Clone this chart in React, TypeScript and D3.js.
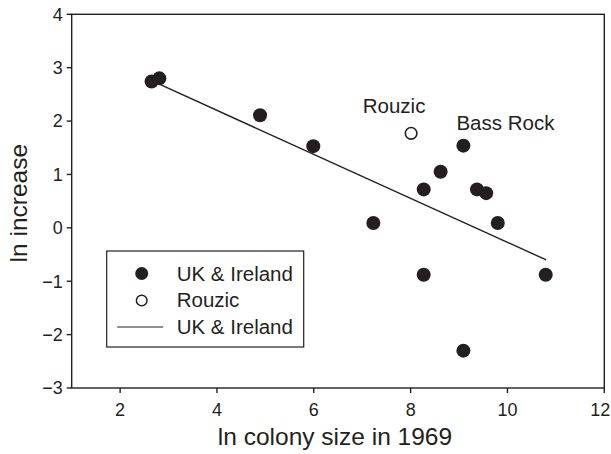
import React from 'react';
import * as d3 from 'd3';

// UK & Ireland colonies (filled dots)
const ukColonySize = [2.65, 2.81, 4.89, 5.99, 7.23, 8.27, 8.62, 9.09, 9.37, 9.56, 9.8, 8.27, 10.79, 9.09];
const ukIncrease = [2.74, 2.8, 2.11, 1.53, 0.09, 0.72, 1.05, 1.54, 0.72, 0.65, 0.09, -0.88, -0.88, -2.3];

// Rouzic (open dot)
const rouzicColonySize = [8.01];
const rouzicIncrease = [1.77];

// fitted line for UK & Ireland
const fitX = [2.81, 10.8];
const fitY = [2.69, -0.6];

const xTicks = [2, 4, 6, 8, 10, 12];
const yTicks = [-3, -2, -1, 0, 1, 2, 3, 4];

const labels = [
  { text: 'Rouzic', x: 8.01, y: 1.77, dx: -17, dy: -20 },
  { text: 'Bass Rock', x: 9.09, y: 1.54, dx: 42, dy: -16 },
];

const legendItems = ['UK & Ireland', 'Rouzic', 'UK & Ireland'];

const W = 611;
const H = 454;
const ink = '#231f20';
const font = '"Liberation Sans", Arial, Helvetica, sans-serif';

export default function App() {
  const x = d3.scaleLinear().domain([1, 12]).range([71.7, 604.3]);
  const y = d3.scaleLinear().domain([-3, 4]).range([388, 14.3]);

  const line = d3.line<number>()
    .x((d) => x(d))
    .y((_, i) => y(fitY[i]));

  const fmt = (v: number) => (v < 0 ? '\u2212' + Math.abs(v) : String(v));

  const [x0, x1] = x.range();
  const [y0, y1] = y.range();

  return (
    <svg
      width={W}
      height={H}
      style={{ position: 'absolute', left: 0, top: 0, background: '#fff' }}
      fontFamily={font}
    >
      {/* frame */}
      <rect x={x0} y={y1} width={x1 - x0} height={y0 - y1} fill="none" stroke={ink} strokeWidth={1.4} />

      {/* x axis ticks */}
      {xTicks.map((t) => (
        <g key={'x' + t} transform={`translate(${x(t)},${y0})`}>
          <line y2={5} stroke={ink} strokeWidth={1.4} />
          {/* keep the last label inside the page, as in the reference */}
          <text x={t === 12 ? -4 : 0} y={28} textAnchor="middle" fontSize={18} fill={ink}>{t}</text>
        </g>
      ))}

      {/* y axis ticks */}
      {yTicks.map((t) => (
        <g key={'y' + t} transform={`translate(${x0},${y(t)})`}>
          <line x2={-5} stroke={ink} strokeWidth={1.4} />
          <text x={-9} dy="0.35em" textAnchor="end" fontSize={18} fill={ink}>{fmt(t)}</text>
        </g>
      ))}

      {/* axis titles */}
      <text x={(x0 + x1) / 2 - 3} y={445} textAnchor="middle" fontSize={24.5} fill={ink}>
        ln colony size in 1969
      </text>
      <text transform={`translate(27,${(y0 + y1) / 2 + 2}) rotate(-90)`} textAnchor="middle" fontSize={24.5} fill={ink}>
        ln increase
      </text>

      {/* fitted line */}
      <path d={line(fitX) || ''} fill="none" stroke={ink} strokeWidth={1.4} />

      {/* UK & Ireland points */}
      {ukColonySize.map((v, i) => (
        <circle key={'uk' + i} cx={x(v)} cy={y(ukIncrease[i])} r={7} fill={ink} />
      ))}

      {/* Rouzic */}
      {rouzicColonySize.map((v, i) => (
        <circle key={'rz' + i} cx={x(v)} cy={y(rouzicIncrease[i])} r={5.8} fill="#fff" stroke={ink} strokeWidth={1.6} />
      ))}

      {/* point labels */}
      {labels.map((l) => (
        <text key={l.text} x={x(l.x) + l.dx} y={y(l.y) + l.dy} textAnchor="middle" fontSize={20.5} fill={ink}>
          {l.text}
        </text>
      ))}

      {/* legend */}
      <g transform="translate(106.7,251)">
        <rect width={197} height={96} fill="#fff" stroke={ink} strokeWidth={1.2} />
        <circle cx={35} cy={22.5} r={6.5} fill={ink} />
        <circle cx={35} cy={49.5} r={5.3} fill="#fff" stroke={ink} strokeWidth={1.5} />
        <line x1={10.5} x2={56.5} y1={76} y2={76} stroke={ink} strokeWidth={1.2} />
        {legendItems.map((t, i) => (
          <text key={i} x={70} y={22.5 + i * 26.8} dy="0.35em" fontSize={20.5} fill={ink}>{t}</text>
        ))}
      </g>
    </svg>
  );
}
